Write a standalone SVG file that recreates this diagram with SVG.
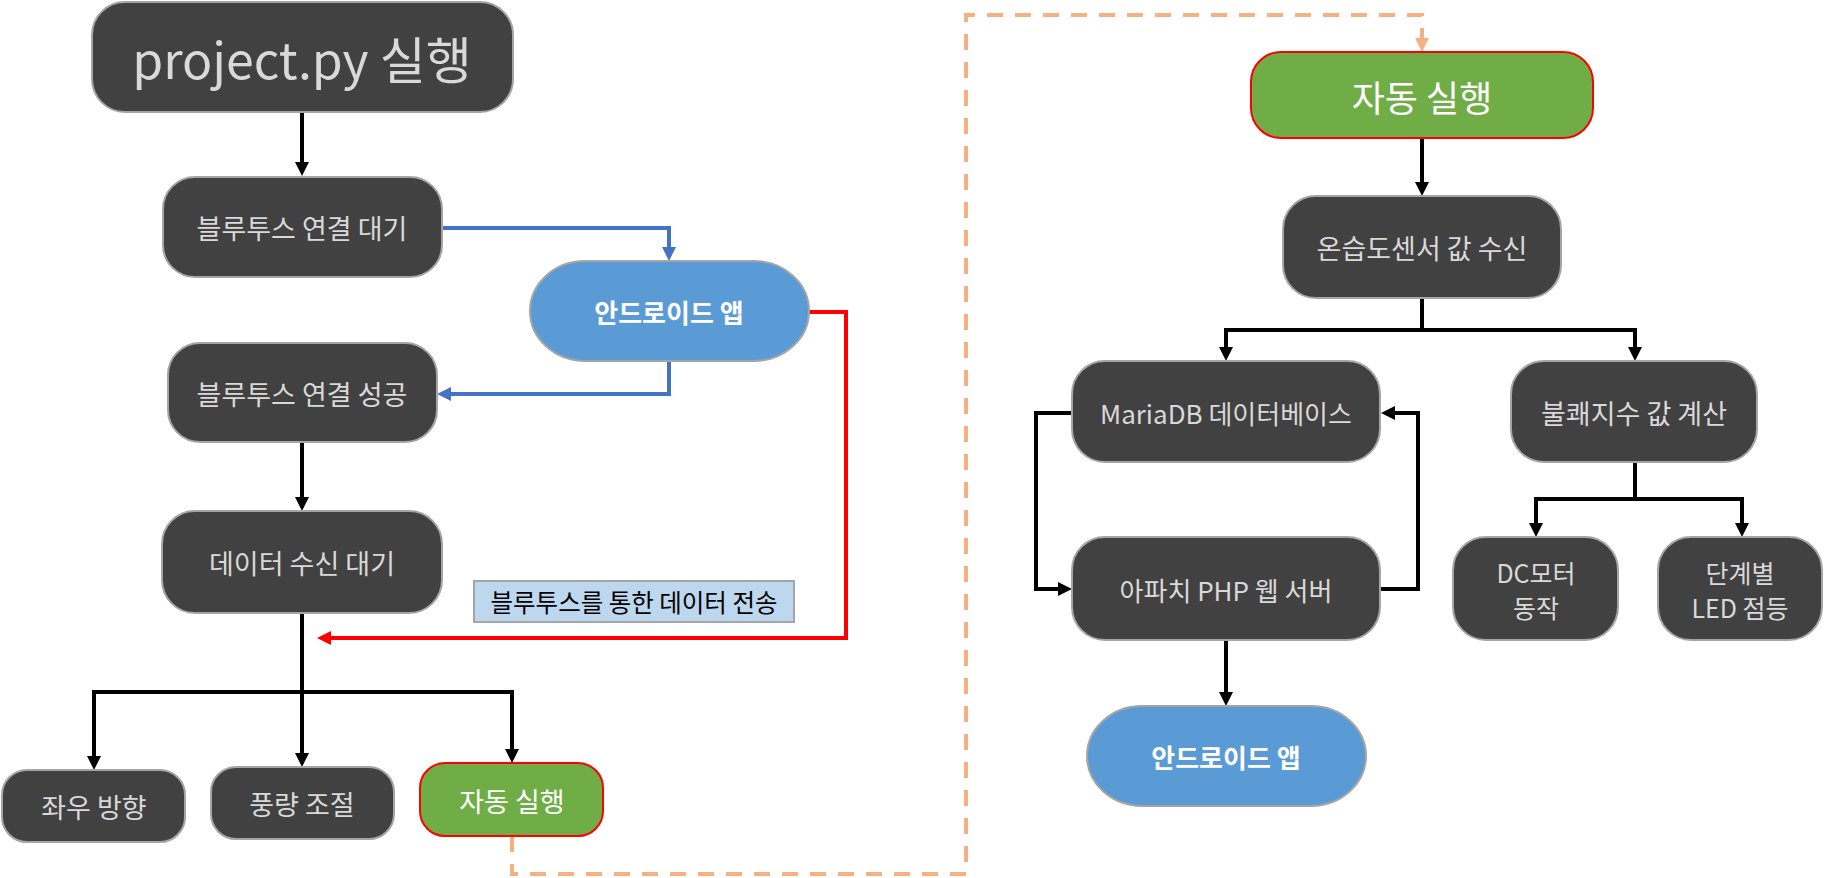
<svg xmlns="http://www.w3.org/2000/svg" width="1825" height="878" viewBox="0 0 1825 878">
<defs>
<style>
.n{fill:#414141;stroke:#a5a5a5;stroke-width:2}
.g{fill:#70ad47;stroke:#ff0000;stroke-width:2}
.b{fill:#5b9bd5;stroke:#a5a5a5;stroke-width:2}
.t{font-family:"Noto Sans CJK KR","Noto Sans",sans-serif;font-size:27px;fill:#d9d9d9;text-anchor:middle;dominant-baseline:central}
.m{font-size:26px}
.s{font-size:25px}
.tw{fill:#ffffff}
.tb{font-weight:bold;fill:#ffffff;font-size:26px}
.k{fill:none;stroke:#000;stroke-width:4}
.bl{fill:none;stroke:#4472c4;stroke-width:4}
.rd{fill:none;stroke:#ff0000;stroke-width:4}
.or{fill:none;stroke:#f4b183;stroke-width:4;stroke-dasharray:16 12}
</style>
<marker id="mk" markerUnits="userSpaceOnUse" markerWidth="14" markerHeight="14" viewBox="0 0 14 14" refX="4" refY="7" orient="auto"><path d="M0,0 L14,7 L0,14 z" fill="#000"/></marker>
<marker id="mb" markerUnits="userSpaceOnUse" markerWidth="14" markerHeight="14" viewBox="0 0 14 14" refX="4" refY="7" orient="auto"><path d="M0,0 L14,7 L0,14 z" fill="#4472c4"/></marker>
<marker id="mr" markerUnits="userSpaceOnUse" markerWidth="14" markerHeight="14" viewBox="0 0 14 14" refX="4" refY="7" orient="auto"><path d="M0,0 L14,7 L0,14 z" fill="#ff0000"/></marker>
<marker id="mo" markerUnits="userSpaceOnUse" markerWidth="14" markerHeight="14" viewBox="0 0 14 14" refX="4" refY="7" orient="auto"><path d="M0,0 L14,7 L0,14 z" fill="#f4b183"/></marker>
</defs>
<rect width="1825" height="878" fill="#ffffff"/>

<g id="connectors">
<path class="k" d="M302,112 V166" marker-end="url(#mk)"/>
<path class="bl" d="M442,228 H669 V251" marker-end="url(#mb)"/>
<path class="bl" d="M669,361 V394 H447" marker-end="url(#mb)"/>
<path class="k" d="M302,442 V501" marker-end="url(#mk)"/>
<path class="rd" d="M809,312 H846 V638 H327" marker-end="url(#mr)"/>
<path class="k" d="M302,613 V757" marker-end="url(#mk)"/>
<path class="k" d="M94,760 V692 H512 V753" marker-end="url(#mk)"/>
<path class="k" d="M94,692 V760" marker-end="url(#mk)"/>
<path class="or" d="M512,836 V874 H966 V15 H1422 V42" marker-end="url(#mo)"/>
<path class="k" d="M1422,138 V186" marker-end="url(#mk)"/>
<path class="k" d="M1422,298 V330"/>
<path class="k" d="M1226,351 V330 H1635 V351" marker-end="url(#mk)"/>
<path class="k" d="M1226,330 V351" marker-end="url(#mk)"/>
<path class="k" d="M1072,413 H1036 V589 H1062" marker-end="url(#mk)"/>
<path class="k" d="M1380,589 H1418 V413 H1391" marker-end="url(#mk)"/>
<path class="k" d="M1226,640 V696" marker-end="url(#mk)"/>
<path class="k" d="M1635,462 V499"/>
<path class="k" d="M1536,527 V499 H1742 V527" marker-end="url(#mk)"/>
<path class="k" d="M1536,499 V527" marker-end="url(#mk)"/>
</g>

<g id="n-project">
<rect class="n" x="92" y="2" width="421" height="110" rx="33" ry="33"/>
<text class="t" x="302" y="57" style="font-size:50px">project.py 실행</text>
</g>
<g id="n-bt-wait">
<rect class="n" x="163" y="177" width="279" height="100" rx="32" ry="32"/>
<text class="t" x="302" y="227">블루투스 연결 대기</text>
</g>
<g id="n-android1">
<rect class="b" x="530" y="261" width="279" height="100" rx="55" ry="50"/>
<text class="t tb" x="669" y="311">안드로이드 앱</text>
</g>
<g id="n-bt-ok">
<rect class="n" x="168" y="343" width="269" height="99" rx="32" ry="32"/>
<text class="t" x="302" y="393">블루투스 연결 성공</text>
</g>
<g id="n-data-wait">
<rect class="n" x="162" y="511" width="280" height="102" rx="33" ry="33"/>
<text class="t" x="302" y="562">데이터 수신 대기</text>
</g>
<g id="label-bt">
<rect x="474" y="581" width="320" height="41" fill="#bdd7ee" stroke="#a5a5a5" stroke-width="2"/>
<text class="t" x="634" y="601" style="font-size:24.5px;fill:#000">블루투스를 통한 데이터 전송</text>
</g>
<g id="n-lr">
<rect class="n" x="2" y="770" width="183" height="72" rx="25" ry="25"/>
<text class="t" x="94" y="806">좌우 방향</text>
</g>
<g id="n-wind">
<rect class="n" x="211" y="767" width="183" height="72" rx="25" ry="25"/>
<text class="t" x="302" y="803">풍량 조절</text>
</g>
<g id="n-auto1">
<rect class="g" x="420" y="763" width="183" height="73" rx="25" ry="25"/>
<text class="t tw" x="512" y="800">자동 실행</text>
</g>

<g id="n-auto2">
<rect class="g" x="1251" y="52" width="342" height="86" rx="30" ry="30"/>
<text class="t tw" x="1422" y="96" style="font-size:36px">자동 실행</text>
</g>
<g id="n-sensor">
<rect class="n" x="1283" y="196" width="278" height="102" rx="33" ry="33"/>
<text class="t" x="1422" y="247">온습도센서 값 수신</text>
</g>
<g id="n-mariadb">
<rect class="n" x="1072" y="361" width="308" height="101" rx="33" ry="33"/>
<text class="t m" x="1226" y="412">MariaDB 데이터베이스</text>
</g>
<g id="n-discomfort">
<rect class="n" x="1511" y="361" width="246" height="101" rx="33" ry="33"/>
<text class="t" x="1634" y="412">불쾌지수 값 계산</text>
</g>
<g id="n-apache">
<rect class="n" x="1072" y="537" width="308" height="103" rx="33" ry="33"/>
<text class="t m" x="1226" y="589">아파치 PHP 웹 서버</text>
</g>
<g id="n-dc">
<rect class="n" x="1453" y="537" width="165" height="103" rx="33" ry="33"/>
<text class="t s" x="1536" y="572"><tspan x="1536">DC모터</tspan><tspan x="1536" dy="35">동작</tspan></text>
</g>
<g id="n-led">
<rect class="n" x="1658" y="537" width="164" height="103" rx="33" ry="33"/>
<text class="t s" x="1740" y="572"><tspan x="1740">단계별</tspan><tspan x="1740" dy="35">LED 점등</tspan></text>
</g>
<g id="n-android2">
<rect class="b" x="1087" y="706" width="279" height="100" rx="55" ry="50"/>
<text class="t tb" x="1226" y="756">안드로이드 앱</text>
</g>
</svg>
